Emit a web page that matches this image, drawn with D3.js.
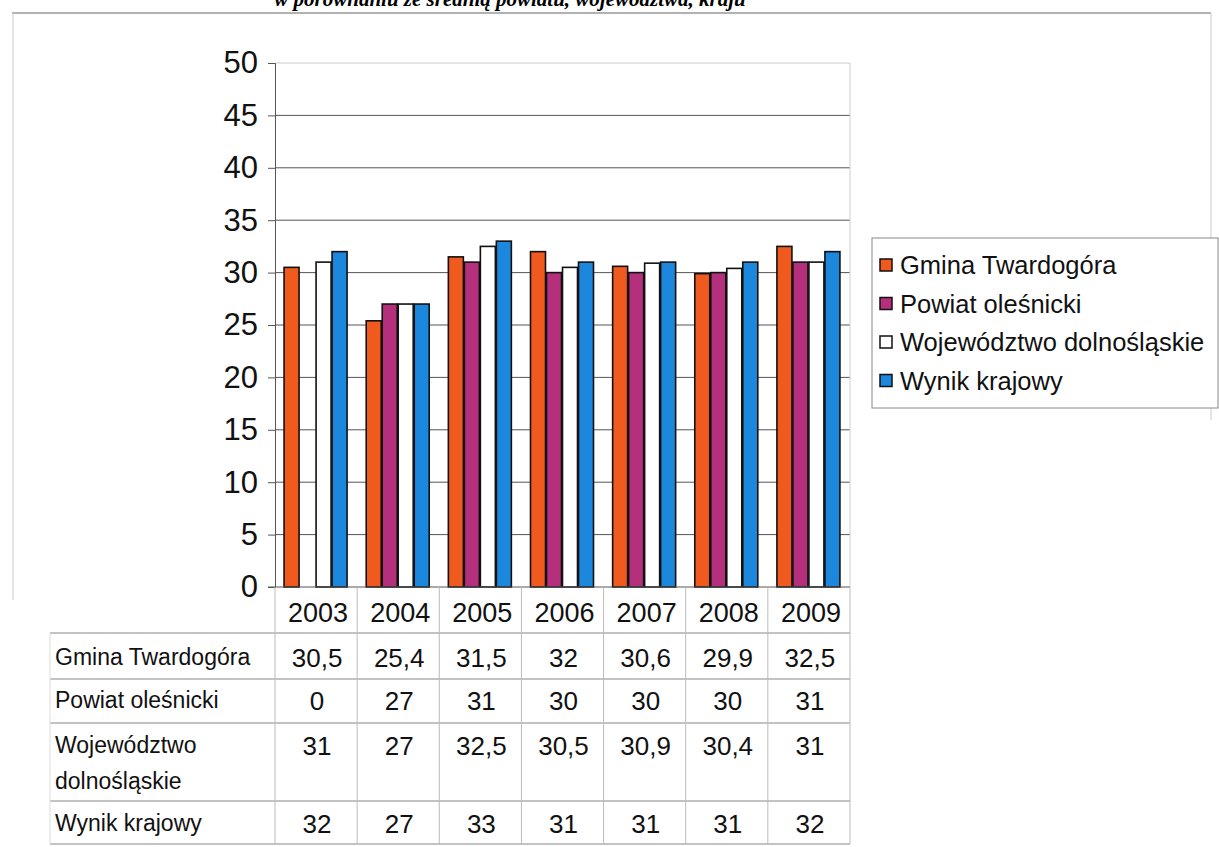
<!DOCTYPE html>
<html>
<head>
<meta charset="utf-8">
<script src="https://cdn.jsdelivr.net/npm/d3@7"></script>
<style>
  body { margin: 0; background: #fff; }
  svg { display: block; font-family: "Liberation Sans", Arial, sans-serif; }
</style>
</head>
<body>
<svg id="chart" width="1219" height="847"></svg>
<script>
// data
const years = ["2003", "2004", "2005", "2006", "2007", "2008", "2009"];
const seriesNames = ["Gmina Twardogóra", "Powiat oleśnicki", "Województwo dolnośląskie", "Wynik krajowy"];
const gmina = [30.5, 25.4, 31.5, 32, 30.6, 29.9, 32.5];
const powiat = [0, 27, 31, 30, 30, 30, 31];
const wojewodztwo = [31, 27, 32.5, 30.5, 30.9, 30.4, 31];
const kraj = [32, 27, 33, 31, 31, 31, 32];
const yTicks = [0, 5, 10, 15, 20, 25, 30, 35, 40, 45, 50];
const colors = ["#f15a1e", "#b5307c", "#ffffff", "#1b87dd"];
const tableLabels = [["Gmina Twardogóra"], ["Powiat oleśnicki"], ["Województwo", "dolnośląskie"], ["Wynik krajowy"]];

const seriesValues = [gmina, powiat, wojewodztwo, kraj];
const fmt = v => String(v).replace(".", ",");

const svg = d3.select("#chart");

// plot area edges
const margin = {top: 63, left: 275, right: 850, bottom: 587};

const x = d3.scaleBand().domain(years).range([margin.left, margin.right]);
const y = d3.scaleLinear().domain([0, 50]).range([margin.bottom, margin.top]);
const xSeries = d3.scaleBand().domain(d3.range(4)).range([0, 64]);

// outer frame (only partly visible in the scan)
svg.append("line").attr("x1", 12).attr("x2", 1211).attr("y1", 13).attr("y2", 13)
  .attr("stroke", "#999").attr("stroke-width", 1.5);
svg.append("line").attr("x1", 13).attr("x2", 13).attr("y1", 13).attr("y2", 600)
  .attr("stroke", "#ccc").attr("stroke-width", 1);
svg.append("line").attr("x1", 1211).attr("x2", 1211).attr("y1", 13).attr("y2", 420)
  .attr("stroke", "#ccc").attr("stroke-width", 1);

// title, cut by the top edge like in the scan
svg.append("text")
  .attr("x", 510).attr("y", 6)
  .attr("text-anchor", "middle")
  .style("font-family", "'Liberation Serif', 'Times New Roman', serif")
  .style("font-style", "italic").style("font-weight", "bold")
  .style("font-size", "21px")
  .text("w porównaniu ze średnią powiatu, województwa, kraju");

// gridlines
svg.append("g").selectAll("line")
  .data(yTicks.filter(d => d > 0))
  .enter().append("line")
  .attr("x1", margin.left).attr("x2", margin.right)
  .attr("y1", d => y(d)).attr("y2", d => y(d))
  .attr("stroke", d => d === 50 ? "#ccc" : "#555")
  .attr("stroke-width", 1);

// plot right edge
svg.append("line").attr("x1", margin.right).attr("x2", margin.right)
  .attr("y1", margin.top).attr("y2", margin.bottom)
  .attr("stroke", "#ccc");

// y axis
const yAxis = svg.append("g")
  .attr("transform", "translate(" + margin.left + ",0)")
  .call(d3.axisLeft(y).tickValues(yTicks).tickSize(7).tickPadding(10));
yAxis.select(".domain").attr("stroke", "#555");
yAxis.selectAll(".tick line").attr("stroke", "#555");
yAxis.selectAll("text")
  .style("font-family", "'Liberation Sans', Arial, sans-serif")
  .style("font-size", "31px").attr("fill", "#111");

// bars
const groups = svg.append("g").selectAll("g")
  .data(years)
  .enter().append("g")
  .attr("transform", d => "translate(" + (x(d) + (x.bandwidth() - 66) / 2) + ",0)");

groups.selectAll("rect")
  .data((yr, i) => seriesValues.map((s, k) => ({k: k, v: s[i]})))
  .enter().append("rect")
  .filter(d => d.v > 0)
  .attr("x", d => xSeries(d.k) + 1)
  .attr("width", xSeries.bandwidth() - 1)
  .attr("y", d => y(d.v))
  .attr("height", d => y(0) - y(d.v))
  .attr("fill", d => colors[d.k])
  .attr("stroke", "#111")
  .attr("stroke-width", 1.6);

// baseline
svg.append("line").attr("x1", margin.left - 7).attr("x2", margin.right)
  .attr("y1", y(0)).attr("y2", y(0)).attr("stroke", "#555");

// data table under the chart
const rowLines = [633, 679, 723, 801, 844];
const rowMid = [657, 700, 745, 823];
const tableLeft = 50;

svg.append("g").selectAll("line")
  .data(rowLines)
  .enter().append("line")
  .attr("x1", tableLeft).attr("x2", margin.right)
  .attr("y1", d => d).attr("y2", d => d)
  .attr("stroke", "#888").attr("stroke-width", 1.2);

const colEdges = years.map(d => x(d)).concat([margin.right]);
svg.append("g").selectAll("line")
  .data(colEdges)
  .enter().append("line")
  .attr("x1", d => d).attr("x2", d => d)
  .attr("y1", y(0)).attr("y2", rowLines[rowLines.length - 1])
  .attr("stroke", "#bbb").attr("stroke-width", 1);
svg.append("line").attr("x1", tableLeft).attr("x2", tableLeft)
  .attr("y1", rowLines[0]).attr("y2", rowLines[rowLines.length - 1])
  .attr("stroke", "#ddd");

// year header
svg.append("g").selectAll("text")
  .data(years)
  .enter().append("text")
  .attr("x", d => x(d) + x.bandwidth() / 2 + 2)
  .attr("y", 622)
  .attr("text-anchor", "middle")
  .style("font-size", "27px").attr("fill", "#111")
  .text(d => d);

// row labels
tableLabels.forEach((lines, r) => {
  const t = svg.append("text")
    .attr("x", 55)
    .attr("y", r === 2 ? 753 : rowMid[r] + 8)
    .style("font-size", "23px").attr("fill", "#111");
  lines.forEach((ln, j) => {
    t.append("tspan").attr("x", 55).attr("dy", j === 0 ? 0 : 36).text(ln);
  });
});

// row values
seriesValues.forEach((s, r) => {
  svg.append("g").selectAll("text")
    .data(s)
    .enter().append("text")
    .attr("x", (d, i) => x(years[i]) + x.bandwidth() / 2 + 1)
    .attr("y", rowMid[r] + 10)
    .attr("text-anchor", "middle")
    .style("font-size", "26px").attr("fill", "#111")
    .text(d => fmt(d));
});

// legend
const legend = svg.append("g");
legend.append("rect")
  .attr("x", 872).attr("y", 238).attr("width", 346).attr("height", 170)
  .attr("fill", "#fff").attr("stroke", "#888").attr("stroke-width", 1);

const legendItems = legend.selectAll("g.item")
  .data(seriesNames)
  .enter().append("g")
  .attr("class", "item")
  .attr("transform", (d, i) => "translate(880," + (265 + i * 38.5) + ")");

legendItems.append("rect")
  .attr("x", 0).attr("y", -6).attr("width", 12).attr("height", 12)
  .attr("fill", (d, i) => colors[i])
  .attr("stroke", "#111").attr("stroke-width", 1.5);

legendItems.append("text")
  .attr("x", 20).attr("y", 9)
  .style("font-size", "25.5px").attr("fill", "#111")
  .text(d => d);
</script>
</body>
</html>
